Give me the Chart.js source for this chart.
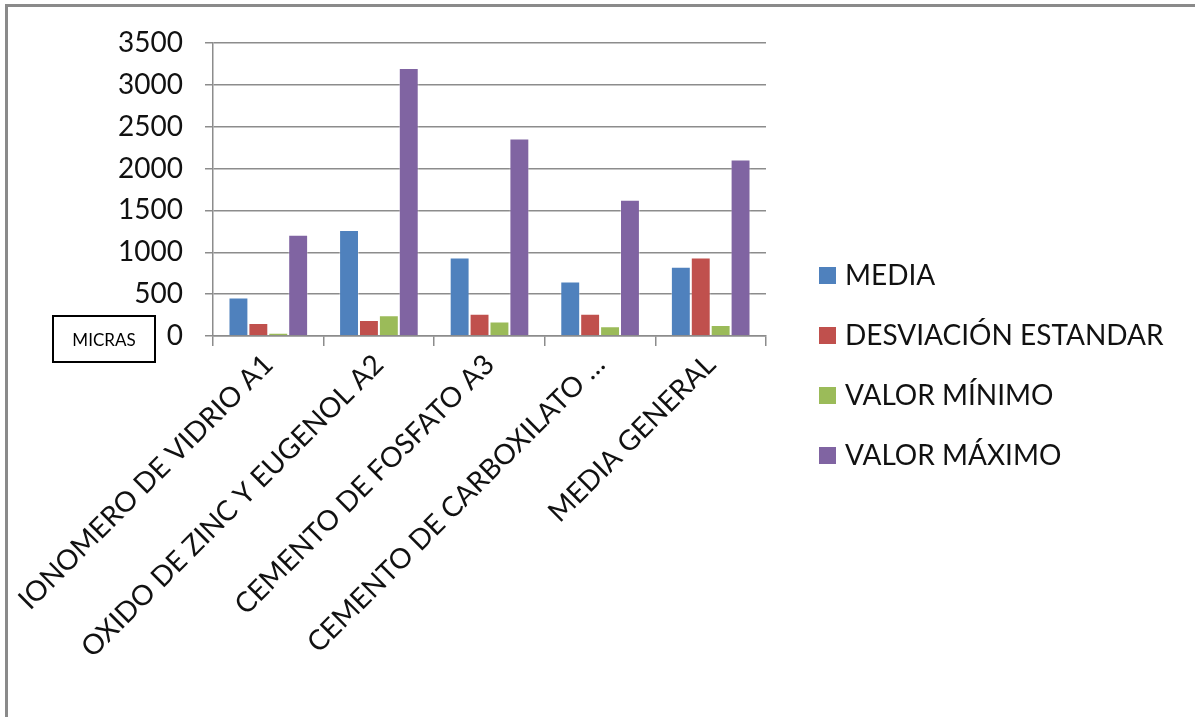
<!DOCTYPE html>
<html>
<head>
<meta charset="utf-8">
<script src="https://cdn.jsdelivr.net/npm/chart.js@4/dist/chart.umd.min.js"></script>
<style>
  html, body { margin: 0; padding: 0; background: #fff; }
  #wrap { position: relative; width: 1195px; height: 717px; overflow: hidden; }
  #frame { position: absolute; left: 5px; top: 4px; right: -10px; bottom: -10px;
           border-top: 3px solid #8a8a8a; border-left: 3px solid #8a8a8a; pointer-events: none; }
  #micras { position: absolute; left: 52px; top: 315px; width: 100px; height: 44px;
            border: 2px solid #000; font: 17px Lato, sans-serif; color: #000;
            display: flex; align-items: center; justify-content: center; }
</style>
</head>
<body>
<div id="wrap">
  <canvas id="chart" width="1195" height="717"></canvas>
  <div id="frame"></div>
  <div id="micras">MICRAS</div>
</div>
<script>
const categories = [
  "IONOMERO DE VIDRIO A1",
  "OXIDO DE ZINC Y EUGENOL A2",
  "CEMENTO DE FOSFATO A3",
  "CEMENTO DE CARBOXILATO …",
  "MEDIA GENERAL",
];
const media = [459, 1265, 938, 650, 826];
const desviacion = [156, 192, 267, 267, 938];
const valorMinimo = [40, 247, 172, 116, 132];
const valorMaximo = [1209, 3200, 2358, 1628, 2107];

const seriesNames = ["MEDIA", "DESVIACIÓN ESTANDAR", "VALOR MÍNIMO", "VALOR MÁXIMO"];
const seriesColors = ["#4f81bd", "#c0504d", "#9bbb59", "#8064a2"];

const gridGray = "#8c8c8c";
const font = "Lato, 'Open Sans', sans-serif";

// legend drawn by hand so its place matches the original sheet
const sideLegend = {
  id: "sideLegend",
  afterDraw(chart) {
    const ctx = chart.ctx;
    ctx.save();
    ctx.font = `28px ${font}`;
    ctx.textBaseline = "middle";
    chart.data.datasets.forEach((ds, i) => {
      const y = 275 + i * 60;
      ctx.fillStyle = ds.backgroundColor;
      ctx.fillRect(819, y - 8, 17, 17);
      ctx.fillStyle = "#111";
      ctx.fillText(ds.label, 845, y + 1);
    });
    ctx.restore();
  },
};

const datasets = [media, desviacion, valorMinimo, valorMaximo].map((data, i) => ({
  label: seriesNames[i],
  data,
  backgroundColor: seriesColors[i],
  borderColor: "rgba(255,255,255,0.35)",
  borderWidth: 1,
  categoryPercentage: 0.72,
  barPercentage: 1.0,
}));

new Chart(document.getElementById("chart"), {
  type: "bar",
  data: { labels: categories, datasets },
  options: {
    responsive: false,
    animation: false,
    layout: { padding: { left: 0, top: 43, right: 429, bottom: 0 } },
    plugins: { legend: { display: false }, tooltip: { enabled: false } },
    scales: {
      x: {
        grid: { display: true, drawOnChartArea: false, drawTicks: true, tickLength: 10, color: gridGray, lineWidth: 1.5, offset: true },
        border: { color: gridGray, width: 1.5 },
        ticks: { color: "#111", font: { family: font, size: 28 }, minRotation: 45, maxRotation: 45, padding: 2, autoSkip: false },
        afterFit: (s) => { s.height = 717 - 336; },
      },
      y: {
        min: 0,
        max: 3500,
        ticks: { stepSize: 500, color: "#111", font: { family: font, size: 28 }, padding: 22, callback: (v) => String(v) },
        grid: { color: gridGray, lineWidth: 1.5, tickLength: 8 },
        border: { color: gridGray, width: 1.5 },
        afterFit: (s) => { s.width = 213; },
      },
    },
  },
  plugins: [sideLegend],
});
</script>
</body>
</html>
